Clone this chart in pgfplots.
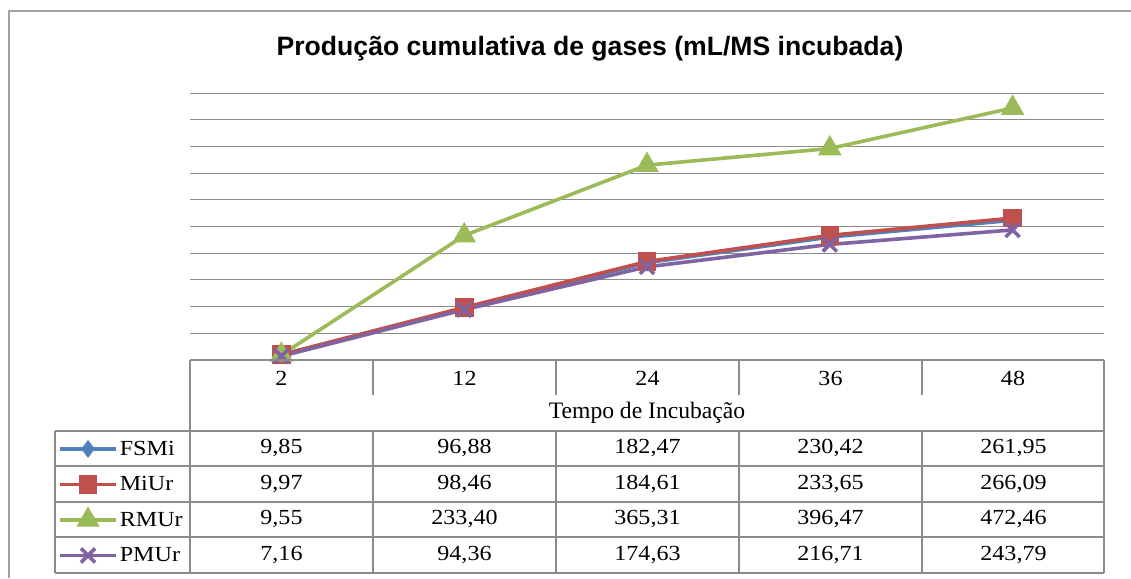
\documentclass[border=0pt]{standalone}
\usepackage{fontspec}
\setmainfont{Liberation Serif}
\newfontfamily\titlefont{Liberation Sans}
\newfontfamily\tabfont[FakeStretch=1.12]{Liberation Serif}
\usepackage{pgfplots}
\pgfplotsset{compat=1.18}
\definecolor{sblue}{HTML}{4F81BD}
\definecolor{sred}{HTML}{C0504D}
\definecolor{sgreen}{HTML}{9BBB59}
\definecolor{spurple}{HTML}{8064A2}
\definecolor{gridc}{HTML}{8C8C8C}
\definecolor{framec}{HTML}{A0A0A0}
\newcommand{\tf}{\tabfont\fontsize{21.5}{24}\selectfont}
\begin{document}
\begin{tikzpicture}[x=1pt,y=1pt]
\useasboundingbox (0,0) rectangle (1131,578);
\draw[framec, line width=1.3pt] (9,0) -- (9,567) -- (1131,567);
\node[font=\titlefont\bfseries\fontsize{26.6}{30}\selectfont] at (590,529) {Produção cumulativa de gases (mL/MS incubada)};
\begin{axis}[
  at={(190pt,218pt)}, anchor=south west, scale only axis,
  width=914pt, height=266.7pt,
  xmin=-0.5, xmax=4.5, ymin=0, ymax=500,
  ytick={50,100,...,500}, xtick=\empty, yticklabels={},
  ymajorgrids, grid style={gridc, line width=1pt},
  axis line style={draw=none}, major tick length=0pt, clip=false,
  legend style={at={(axis description cs:-0.1444,-0.2662)}, anchor=north west,
    draw=none, fill=none, inner sep=0pt, row sep=0pt, column sep=2pt,
    font=\tf, nodes={inner sep=0pt, minimum height=35.5pt}},
  legend cell align=left,
  legend image code/.code={\draw[mark repeat=2,mark phase=2,#1] plot coordinates {(0pt,0pt) (28pt,0pt) (56pt,0pt)};},
]
\addplot[color=sblue, line width=3.6pt, mark=diamond*, mark size=6pt, mark options={solid}]
  coordinates {(0,9.85) (1,96.88) (2,182.47) (3,230.42) (4,261.95)};
\addlegendentry{FSMi}
\addplot[color=sred, line width=3.6pt, mark=square*, mark size=7.5pt, mark options={solid}]
  coordinates {(0,9.97) (1,98.46) (2,184.61) (3,233.65) (4,266.09)};
\addlegendentry{MiUr}
\addplot[color=sgreen, line width=3.6pt, mark=triangle*, mark size=10pt, mark options={solid}]
  coordinates {(0,9.55) (1,233.40) (2,365.31) (3,396.47) (4,472.46)};
\addlegendentry{RMUr}
\addplot[color=spurple, line width=3.6pt, mark=x, mark size=10pt, mark options={solid, line width=3.6pt}]
  coordinates {(0,7.16) (1,94.36) (2,174.63) (3,216.71) (4,243.79)};
\addlegendentry{PMUr}
\end{axis}
% data table grid
\begin{scope}[gridc, line width=1.2pt]
\draw (190,218) -- (1104,218);
\draw (190,218) -- (190,5);
\draw (1104,218) -- (1104,5);
\foreach \xx in {373,556,739,922} {\draw (\xx,218) -- (\xx,183); \draw (\xx,147) -- (\xx,5);}
\foreach \yy in {147,112,76,41,5} {\draw (55,\yy) -- (1104,\yy);}
\draw (55,147) -- (55,5);
\end{scope}
\begin{scope}[font=\tf]
\node at (281.5,200) {2};
\node at (464.5,200) {12};
\node at (647.5,200) {24};
\node at (830.5,200) {36};
\node at (1013,200) {48};
\node[font=\setmainfont{Liberation Serif}\fontsize{23.6}{26}\selectfont] at (647,165) {Tempo de Incubação};
\foreach \v [count=\i from 0] in {9{,}85, 96{,}88, 182{,}47, 230{,}42, 261{,}95}
  {\node at (281.5+183*\i,129.5) {\v};}
\foreach \v [count=\i from 0] in {9{,}97, 98{,}46, 184{,}61, 233{,}65, 266{,}09}
  {\node at (281.5+183*\i,94) {\v};}
\foreach \v [count=\i from 0] in {9{,}55, 233{,}40, 365{,}31, 396{,}47, 472{,}46}
  {\node at (281.5+183*\i,58.5) {\v};}
\foreach \v [count=\i from 0] in {7{,}16, 94{,}36, 174{,}63, 216{,}71, 243{,}79}
  {\node at (281.5+183*\i,23) {\v};}
\end{scope}
\end{tikzpicture}
\end{document}
